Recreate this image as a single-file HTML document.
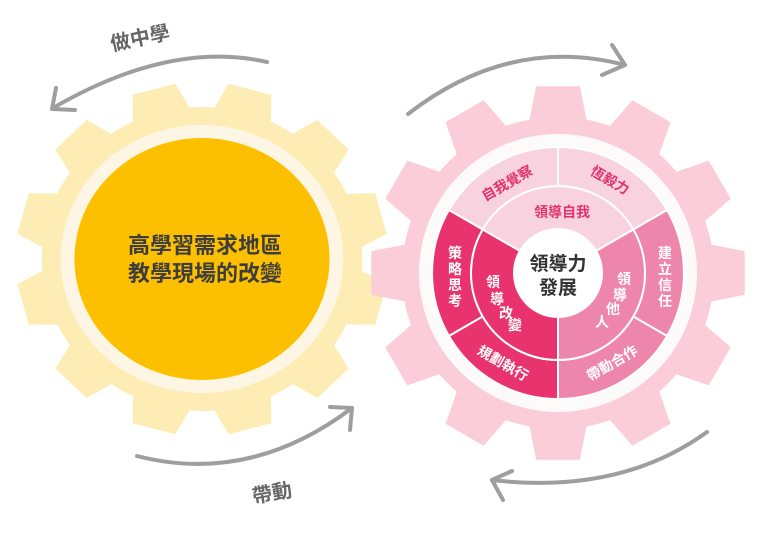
<!DOCTYPE html>
<html><head><meta charset="utf-8"><style>
html,body{margin:0;padding:0;background:#fff;width:768px;height:551px;overflow:hidden}
svg{display:block}
text{font-family:"Liberation Sans","Noto Sans CJK TC",sans-serif;font-weight:bold}
</style></head><body>
<svg id="s" width="768" height="551" viewBox="0 0 768 551" xmlns="http://www.w3.org/2000/svg">
<g transform="translate(202,259) scale(1.054,1)">
<path id="g1" fill="#fdedb4"/>
<circle r="134" fill="#fdf6e4"/>
<circle r="121" fill="#fdc000"/>
</g>
<g transform="translate(558,273)">
<path id="g2" fill="#fbcdd8"/>
<circle r="139" fill="#fdfafa"/>
<path id="p1" fill="#f8d3df" stroke="#fff" stroke-width="2"/>
<path id="p2" fill="#f8d3df" stroke="#fff" stroke-width="2"/>
<path id="p3" fill="#ee86ab" stroke="#fff" stroke-width="2"/>
<path id="p4" fill="#ee86ab" stroke="#fff" stroke-width="2"/>
<path id="p5" fill="#e8336f" stroke="#fff" stroke-width="2"/>
<path id="p6" fill="#e8336f" stroke="#fff" stroke-width="2"/>
<path id="i1" fill="#f8d3df" stroke="#fff" stroke-width="2"/>
<path id="i2" fill="#ee86ab" stroke="#fff" stroke-width="2"/>
<path id="i3" fill="#e8336f" stroke="#fff" stroke-width="2"/>
<circle r="45" fill="#fff"/>
</g>
<g fill="none" stroke="#9e9e9e" stroke-width="4" stroke-linecap="round" stroke-linejoin="round">
<path d="M267 62 Q170 40 53 108"/><path d="M56 88 L52 109 L75 110"/>
<path d="M137 456 Q250 485 352 408"/><path d="M330 407 L352 408 L350 430"/>
<path d="M408 114 Q510 35 625 65"/><path d="M612 45 L625 65 L602 75"/>
<path d="M707 432 Q620 495 492 480"/><path d="M512 471 L492 480 L503 500"/>
</g>
<g fill="#666" font-size="20">
<text x="140" y="45" text-anchor="middle" transform="rotate(-12 140 38)">做中學</text>
<text x="272" y="500" text-anchor="middle" transform="rotate(-10 272 493)">帶動</text>
</g>
<g fill="#3d3d3d" font-size="22" text-anchor="middle">
<text x="205" y="253">高學習需求地區</text>
<text x="205" y="281">教學現場的改變</text>
</g>
<g fill="#333" font-size="19" text-anchor="middle">
<text x="558" y="270">領導力</text>
<text x="558" y="294">發展</text>
</g>
<g font-size="14" text-anchor="middle">
<text x="507" y="188" fill="#e0336c" transform="rotate(-30 507 183)">自我覺察</text>
<text x="610" y="185" fill="#e0336c" transform="rotate(30 610 180)">恆毅力</text>
<text x="562" y="217" fill="#e0336c">領導自我</text>
<g fill="#fff">
<text x="455" y="258">策</text><text x="455" y="274">略</text><text x="455" y="290">思</text><text x="455" y="306">考</text>
<text x="665" y="258">建</text><text x="665" y="274">立</text><text x="665" y="290">信</text><text x="665" y="306">任</text>
<text x="503" y="368" transform="rotate(30 503 363)">規劃執行</text>
<text x="612" y="368" transform="rotate(-30 612 363)">帶動合作</text>
<text x="493" y="287">領</text><text x="497" y="304">導</text><text x="506" y="318">改</text><text x="515" y="330">變</text>
<text x="624" y="284">領</text><text x="620" y="300">導</text><text x="613" y="314">他</text><text x="602" y="327">人</text>
</g></g>
</svg>
<script>
function gear(ro,rb,n,off,hwo,hwb){var d="",s=Math.PI/180;for(var i=0;i<n;i++){var c=(off+i*360/n-90);var pts=[[rb,c-hwb],[ro,c-hwo],[ro,c+hwo],[rb,c+hwb]];pts.forEach(function(p,j){var x=(p[0]*Math.cos(p[1]*s)).toFixed(1),y=(p[0]*Math.sin(p[1]*s)).toFixed(1);d+=(i==0&&j==0?"M":"L")+x+" "+y});var na=c+360/n-hwb;d+="A"+rb+" "+rb+" 0 0 1 "+(rb*Math.cos(na*s)).toFixed(1)+" "+(rb*Math.sin(na*s)).toFixed(1)}return d+"Z"}
document.getElementById("g1").setAttribute("d",gear(177,152,12,15,6.8,10.5));
document.getElementById("g2").setAttribute("d",gear(188,156,12,0,6.7,10.5));
function sec(r1,r2,a1,a2){var s=Math.PI/180;function P(r,a){return (r*Math.cos(-a*s)).toFixed(1)+" "+(r*Math.sin(-a*s)).toFixed(1)}var L=(a2-a1)>180?1:0;return "M"+P(r2,a1)+"A"+r2+" "+r2+" 0 "+L+" 0 "+P(r2,a2)+"L"+P(r1,a2)+"A"+r1+" "+r1+" 0 "+L+" 1 "+P(r1,a1)+"Z"}
var o=[["p1",90,150],["p2",30,90],["p3",-30,30],["p4",-90,-30],["p5",150,210],["p6",210,270]];
o.forEach(function(a){document.getElementById(a[0]).setAttribute("d",sec(87,126,a[1],a[2]))});
[["i1",30,150],["i2",-90,30],["i3",150,270]].forEach(function(a){document.getElementById(a[0]).setAttribute("d",sec(40,87,a[1],a[2]))});
</script>
</body></html>
